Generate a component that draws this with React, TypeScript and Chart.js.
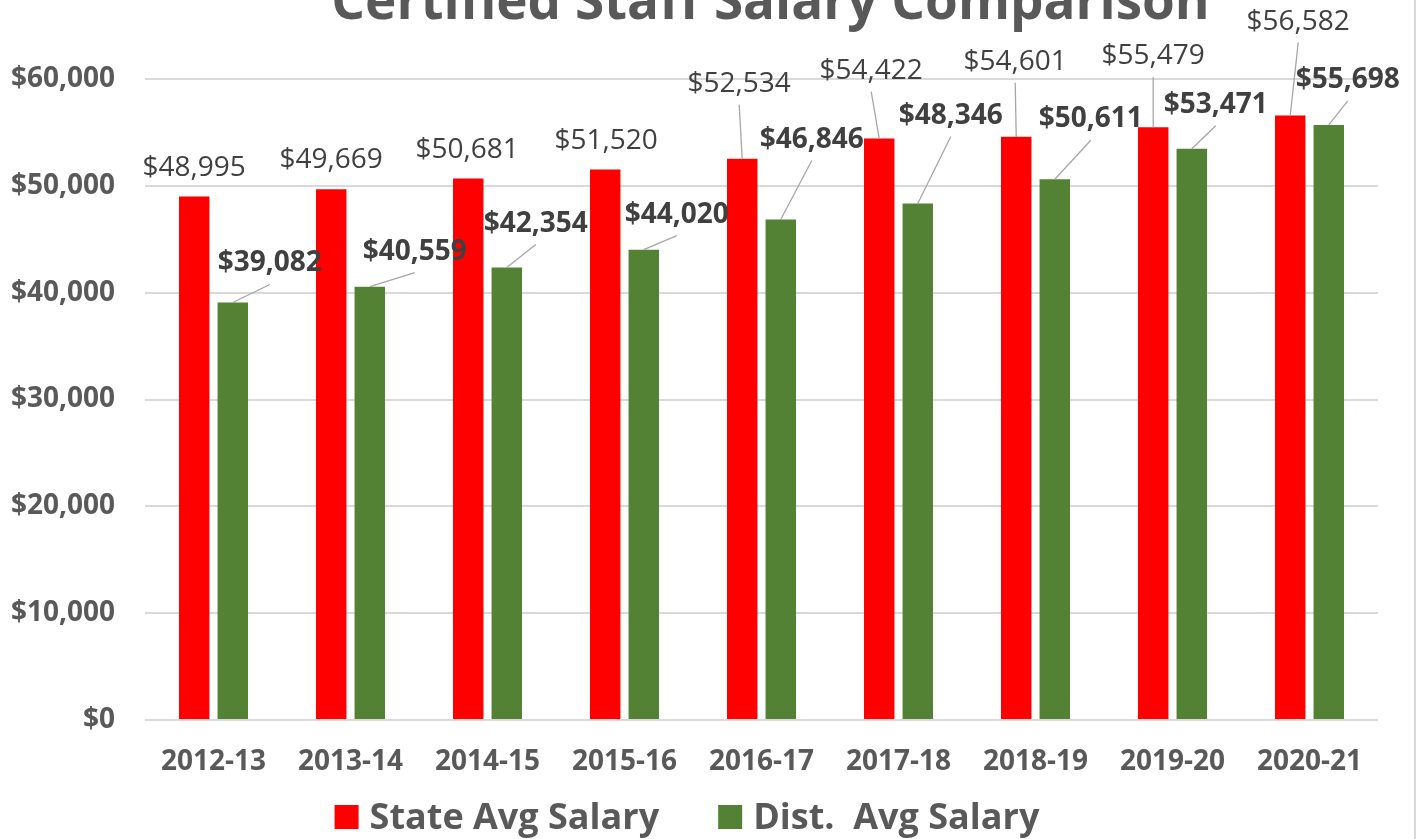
import React, { useEffect, useRef } from "react";
import { Chart, registerables } from "chart.js";

Chart.register(...registerables);

// ---- data ----
const chartTitle = "Certified Staff Salary Comparison";
const categories = ["2012-13", "2013-14", "2014-15", "2015-16", "2016-17", "2017-18", "2018-19", "2019-20", "2020-21"];
const seriesNames = ["State Avg Salary", "Dist.  Avg Salary"];
const stateAvgSalary = [48995, 49669, 50681, 51520, 52534, 54422, 54601, 55479, 56582];
const distAvgSalary = [39082, 40559, 42354, 44020, 46846, 48346, 50611, 53471, 55698];
const yTickValues = [0, 10000, 20000, 30000, 40000, 50000, 60000];

// ---- label placement (pixel offsets of label centre from bar top centre) ----
const stateLabelOffsets = [[0, -31], [0, -31], [-1, -31], [1, -31], [-3, -77], [-8, -70], [-1, -77], [0, -73], [8, -96]];
const distLabelOffsets = [[37, -41], [45, -37], [29, -46], [33, -37], [31, -82], [33, -90], [36, -62], [24, -46], [19, -47]];

// ---- styles ----
const FONT = '"Open Sans", "DejaVu Sans", sans-serif';
const AXIS_COLOR = "#595959";
const LABEL_COLOR = "#404040";
const GRID_COLOR = "#d9d9d9";
const STATE_COLOR = "#FF0000";
const DIST_COLOR = "#548235";
const CANVAS_W = 1419;
const CANVAS_H = 839;
const PLOT_BOTTOM = 720;
const PAD_BOTTOM = 40;
const LEGEND_CENTER_X = 687;
const LEGEND_BASELINE = 829;

const money = (v: number) => "$" + v.toLocaleString("en-US");

const dataLabelPlugin = {
  id: "dataLabels",
  afterDatasetsDraw(chart: any) {
    const ctx = chart.ctx;
    ctx.save();
    chart.data.datasets.forEach((ds: any, di: number) => {
      const meta = chart.getDatasetMeta(di);
      const offsets = di === 0 ? stateLabelOffsets : distLabelOffsets;
      const bold = di === 1;
      meta.data.forEach((bar: any, i: number) => {
        const { x, y } = bar.getProps(["x", "y"], true);
        const [dx, dy] = offsets[i];
        const lx = x + dx;
        const ly = y + dy;
        if (Math.hypot(dx, dy + 31) > 6) {
          ctx.beginPath();
          ctx.strokeStyle = "#a6a6a6";
          ctx.lineWidth = 1.3;
          ctx.moveTo(lx, ly + 23);
          ctx.lineTo(x, y);
          ctx.stroke();
        }
        ctx.font = `${bold ? "bold " : ""}28px ${FONT}`;
        ctx.fillStyle = LABEL_COLOR;
        ctx.textAlign = "center";
        ctx.textBaseline = "alphabetic";
        ctx.fillText(money(ds.data[i]), lx, ly + 10);
      });
    });
    ctx.restore();
  },
};

const decorPlugin = {
  id: "decor",
  afterDraw(chart: any) {
    const ctx = chart.ctx;
    const area = chart.chartArea;
    ctx.save();
    // title (partly cut off at the top, as in the reference)
    ctx.font = `bold 53px ${FONT}`;
    ctx.fillStyle = AXIS_COLOR;
    ctx.textAlign = "center";
    ctx.textBaseline = "alphabetic";
    ctx.fillText(chartTitle, (area.left + area.right) / 2 + 9, 19);

    // legend
    ctx.font = `bold 36px ${FONT}`;
    const box = 24;
    const boxGap = 11;
    const itemGap = 59;
    const items = chart.data.datasets.map((ds: any) => ({
      text: ds.label,
      color: ds.backgroundColor,
      w: ctx.measureText(ds.label).width,
    }));
    const total = items.reduce((s: number, it: any) => s + box + boxGap + it.w, 0) + itemGap * (items.length - 1);
    let x = LEGEND_CENTER_X - total / 2;
    ctx.textAlign = "left";
    items.forEach((it: any) => {
      ctx.fillStyle = it.color;
      ctx.fillRect(x, LEGEND_BASELINE - box, box, box);
      ctx.fillStyle = AXIS_COLOR;
      ctx.fillText(it.text, x + box + boxGap, LEGEND_BASELINE);
      x += box + boxGap + it.w + itemGap;
    });

    // chart outer border on the right
    ctx.beginPath();
    ctx.strokeStyle = GRID_COLOR;
    ctx.lineWidth = 2;
    ctx.moveTo(1415, 0);
    ctx.lineTo(1415, chart.height);
    ctx.stroke();
    ctx.restore();
  },
};

export default function App() {
  const canvasRef = useRef<HTMLCanvasElement | null>(null);

  useEffect(() => {
    document.body.style.margin = "0";
    const canvas = canvasRef.current;
    if (!canvas) return;
    const chart = new Chart(canvas, {
      type: "bar",
      data: {
        labels: categories,
        datasets: [
          {
            label: seriesNames[0],
            data: stateAvgSalary,
            backgroundColor: STATE_COLOR,
            borderWidth: 0,
            categoryPercentage: 0.563,
            barPercentage: 0.79,
          },
          {
            label: seriesNames[1],
            data: distAvgSalary,
            backgroundColor: DIST_COLOR,
            borderWidth: 0,
            categoryPercentage: 0.563,
            barPercentage: 0.79,
          },
        ],
      },
      options: {
        animation: false,
        responsive: true,
        maintainAspectRatio: false,
        devicePixelRatio: 1,
        layout: { padding: { top: 79, right: 41, left: 0, bottom: PAD_BOTTOM } },
        plugins: {
          title: { display: false },
          tooltip: { enabled: false },
          legend: { display: false },
        },
        scales: {
          x: {
            grid: { display: false, drawTicks: false },
            border: { display: false },
            ticks: {
              color: AXIS_COLOR,
              padding: 25,
              font: { family: FONT, size: 28, weight: "bold" },
              maxRotation: 0,
            },
            afterFit: (scale: any) => {
              scale.height = scale.chart.height - PLOT_BOTTOM - PAD_BOTTOM;
            },
          },
          y: {
            min: 0,
            max: 60000,
            afterBuildTicks: (scale: any) => {
              scale.ticks = yTickValues.map((v) => ({ value: v }));
            },
            grid: { color: GRID_COLOR, lineWidth: 2, drawTicks: false },
            border: { display: false },
            ticks: {
              color: AXIS_COLOR,
              padding: 30,
              font: { family: FONT, size: 28, weight: "bold" },
              callback: (v: any) => money(Number(v)),
            },
            afterFit: (scale: any) => {
              scale.width = 145;
            },
          },
        },
      },
      plugins: [dataLabelPlugin, decorPlugin],
    });
    return () => chart.destroy();
  }, []);

  return (
    <div style={{ position: "fixed", left: 0, top: 0, width: CANVAS_W, height: CANVAS_H }}>
      <canvas ref={canvasRef} />
    </div>
  );
}
